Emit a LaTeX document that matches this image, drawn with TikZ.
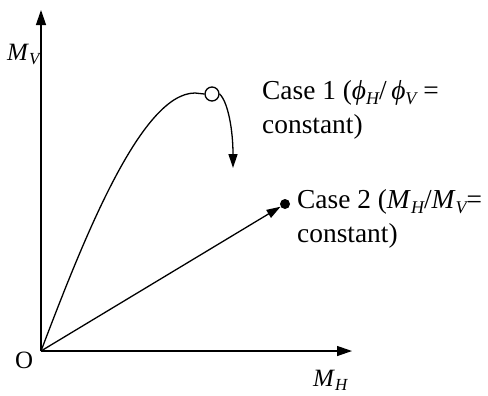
\documentclass[tikz,border=0pt]{standalone}
\usepackage{fontspec}
\setmainfont{Liberation Serif}
\usetikzlibrary{arrows.meta}
\newcommand\lowsub[1]{\raisebox{-5bp}{\fontsize{18}{18}\selectfont\itshape #1}}
\newcommand\lowsubs[1]{\raisebox{-4bp}{\fontsize{17}{17}\selectfont\itshape #1}}
\begin{document}
\begin{tikzpicture}[x=1bp,y=-1bp,
  line/.style={line width=1.3bp},
  axis/.style={line, -{Triangle[length=15bp,width=10bp]}},
  arr/.style={line, -{Triangle[length=14bp,width=9bp]}},
  lbl/.style={inner sep=0pt, anchor=base west, font=\fontsize{25}{29}\selectfont},
  case/.style={inner sep=0pt, anchor=base west, align=left, font=\fontsize{27.5}{34}\selectfont}]
\useasboundingbox (0,0) rectangle (488,395);
\coordinate (O) at (41,351);
\coordinate (ytip) at (41,10);
\coordinate (xtip) at (352,351);
\coordinate (peak) at (195,93);
\coordinate (c1end) at (233,168);
\draw[axis] (O) -- (ytip);
\draw[axis] (O) -- (xtip);
\node[circle, draw, line width=1.3bp, minimum size=14bp, inner sep=0pt] (c1) at (212,94) {};
\node[circle, fill=black, minimum size=10bp, inner sep=0pt] (c2) at (285,204) {};
\draw[line] (O) .. controls (81,246) and (140,93) .. (peak) -- (c1.west);
\draw[arr] (c1.east) .. controls (228,102) and (233,130) .. (c1end);
\draw[arr] (O) -- (c2);
\node[lbl] (mv) at (7,60) {\textit{M}\lowsubs{V}};
\node[lbl] (mh) at (313,386) {\textit{M}\lowsubs{H}};
\node[lbl] (o) at (15,368) {O};
\node[case] (t1) at (262,133) {Case 1 (\textit{ϕ}\lowsub{H}/\,\textit{ϕ}\lowsub{V} =\\constant)};
\node[case] (t2) at (297,242) {Case 2 (\textit{M}\lowsub{H}/\textit{M}\lowsub{V}=\\constant)};
\end{tikzpicture}
\end{document}
